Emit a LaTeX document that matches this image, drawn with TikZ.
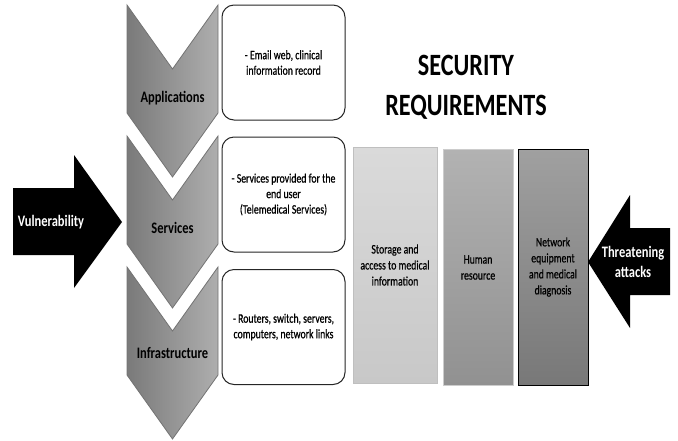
\documentclass[tikz,border=0pt]{standalone}
\usepackage{fontspec}
\setmainfont{Carlito}[FakeStretch=0.78]
\newfontfamily\bodyfont{Carlito}[FakeStretch=0.75, FakeBold=0.6]
\definecolor{chevdark}{RGB}{122, 122, 122}
\definecolor{chevlight}{RGB}{174, 174, 174}
\definecolor{storetop}{RGB}{218, 218, 218}
\definecolor{storebot}{RGB}{200, 200, 200}
\definecolor{humantop}{RGB}{178, 178, 178}
\definecolor{humanbot}{RGB}{145, 145, 145}
\definecolor{nettop}{RGB}{160, 160, 160}
\definecolor{netbot}{RGB}{120, 120, 120}
\usetikzlibrary{positioning}

\begin{document}
\begin{tikzpicture}[
  x=1pt, y=-1pt,
  chevron/.style={draw=black!55, line width=0.8pt, left color=chevdark, right color=chevlight},
  layerlabel/.style={font=\fontsize{16}{19}\selectfont\bfseries},
  itembox/.style={draw=black!85, line width=1pt, rounded corners=12pt, fill=white, minimum width=123pt, minimum height=115pt, align=center, font=\bodyfont\fontsize{13}{15.5}\selectfont},
  reqcol/.style={minimum width=70pt, minimum height=236pt, align=center, font=\bodyfont\fontsize{13}{16}\selectfont},
  arrowtext/.style={text=white, align=center, font=\fontsize{16}{20}\selectfont\bfseries}
]
  \useasboundingbox (0,0) rectangle (678,440);

  % layers
  \foreach \t in {5,136,267}
    \draw[chevron] (127,\t) -- (172.5,\t+64) -- (218,\t) -- (218,\t+108)
      -- (172.5,\t+172) -- (127,\t+108) -- cycle;
  \node[layerlabel] (apps) at (172.5,98) {Applications};
  \node[layerlabel] (serv) at (172.5,228) {Services};
  \node[layerlabel] (infra) at (172.5,353) {Infrastructure};

  \node[itembox] (appsbox) at (283.5,62.5) {- Email web, clinical\\information record};
  \node[itembox] (servbox) at (283.5,194.5) {- Services provided for the\\end user\\(Telemedical Services)};
  \node[itembox] (infrabox) at (283.5,327) {- Routers, switch, servers,\\computers, network links};

  % requirements
  \node[font=\fontsize{31}{40}\selectfont\bfseries, align=center] (title) at (466,87) {SECURITY\\REQUIREMENTS};
  \node[reqcol, minimum width=84pt, draw=black!25, top color=storetop, bottom color=storebot] (storage) at (395,265) {Storage and\\access to medical\\information};
  \node[reqcol, draw=black!20, top color=humantop, bottom color=humanbot] (human) at (478,267.5) {Human\\resource};
  \node[reqcol, draw=black, line width=0.8pt, top color=nettop, bottom color=netbot] (network) at (553,267) {Network\\equipment\\and medical\\diagnosis};

  % threats
  \fill (13,188) -- (74,188) -- (74,155) -- (122,222) -- (74,288) -- (74,255) -- (13,255) -- cycle;
  \node[arrowtext] (vuln) at (51,222) {Vulnerability};
  \fill (670,228) -- (630,228) -- (630,195) -- (588,262) -- (630,328) -- (630,295) -- (670,295) -- cycle;
  \node[arrowtext] (threat) at (633,262) {Threatening\\attacks};
\end{tikzpicture}
\end{document}
